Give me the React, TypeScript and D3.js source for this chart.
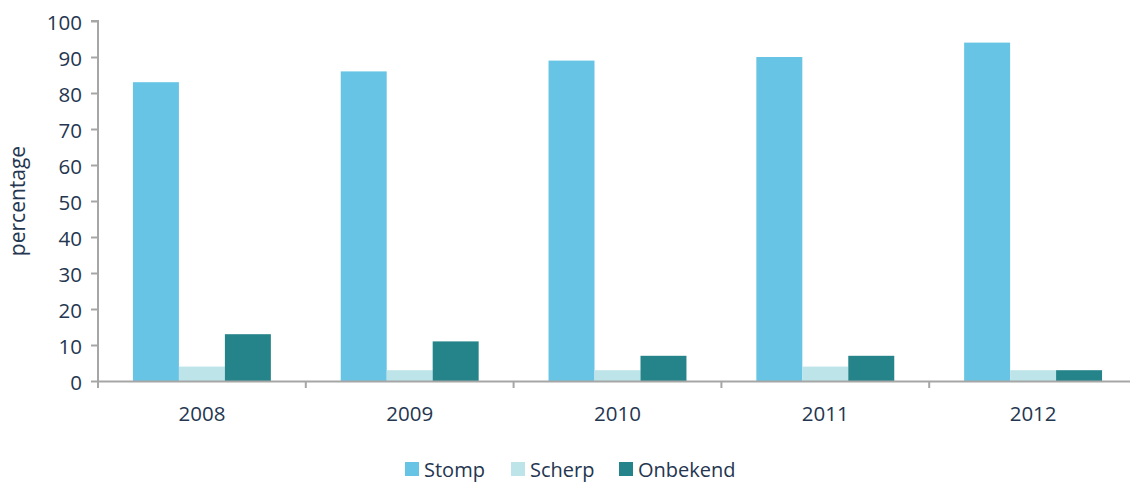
import React, { useEffect, useRef } from "react";
import * as d3 from "d3";

const years = ["2008", "2009", "2010", "2011", "2012"];
const seriesNames = ["Stomp", "Scherp", "Onbekend"];
const stomp = [83, 86, 89, 90, 94];
const scherp = [4, 3, 3, 4, 3];
const onbekend = [13, 11, 7, 7, 3];
const yTicks = [0, 10, 20, 30, 40, 50, 60, 70, 80, 90, 100];

const colors = ["#67C4E5", "#BCE4E9", "#258489"];
const textColor = "#243650";
const axisColor = "#A6A6A6";
const font = "'Open Sans', sans-serif";

const App = () => {
  const ref = useRef<SVGSVGElement>(null);

  useEffect(() => {
    const width = 1130;
    const height = 482;
    const margin = { top: 21, right: -7, bottom: 101, left: 98 };

    const svg = d3.select(ref.current);
    svg.selectAll("*").remove();

    const rows = years.map((y, i) => ({
      year: y,
      values: [stomp[i], scherp[i], onbekend[i]],
    }));

    const x = d3
      .scaleBand()
      .domain(years)
      .range([margin.left, width - margin.right])
      .paddingInner(0)
      .paddingOuter(0);

    const xInner = d3
      .scaleBand()
      .domain(seriesNames)
      .range([0, x.bandwidth()])
      .paddingOuter(0.76)
      .paddingInner(0);

    const y = d3
      .scaleLinear()
      .domain([0, 100])
      .range([height - margin.bottom, margin.top]);

    // bars
    const groups = svg
      .append("g")
      .selectAll("g")
      .data(rows)
      .join("g")
      .attr("transform", (d) => `translate(${x(d.year)},0)`);

    groups
      .selectAll("rect")
      .data((d) => d.values.map((v, j) => ({ key: seriesNames[j], v, j })))
      .join("rect")
      .attr("x", (d) => xInner(d.key)!)
      .attr("y", (d) => y(d.v))
      .attr("width", xInner.bandwidth())
      .attr("height", (d) => y(0) - y(d.v))
      .attr("fill", (d) => colors[d.j]);

    // y axis
    const yAxis = svg
      .append("g")
      .attr("transform", `translate(${margin.left},0)`)
      .call(d3.axisLeft(y).tickValues(yTicks).tickSize(7).tickPadding(9));
    yAxis.select(".domain").attr("stroke", axisColor).attr("stroke-width", 2)
      .attr("d", `M-7,${y(100)}H0V${y(0) + 7}`);
    yAxis.selectAll(".tick line").attr("stroke", axisColor).attr("stroke-width", 2);
    yAxis
      .selectAll("text")
      .attr("fill", textColor)
      .attr("dy", "0.4em")
      .style("font-family", font)
      .style("font-size", "20.5px");

    // x axis
    const xAxis = svg
      .append("g")
      .attr("transform", `translate(0,${y(0)})`)
      .call(d3.axisBottom(x).tickSize(0));
    xAxis.select(".domain").attr("stroke", axisColor).attr("stroke-width", 2);
    xAxis
      .selectAll("text")
      .attr("y", 40)
      .attr("dy", 0)
      .attr("fill", textColor)
      .style("font-family", font)
      .style("font-size", "20.5px");
    // boundary ticks between categories
    xAxis
      .append("g")
      .selectAll("line")
      .data(years.slice(1))
      .join("line")
      .attr("x1", (d) => x(d)!)
      .attr("x2", (d) => x(d)!)
      .attr("y1", 0)
      .attr("y2", 7)
      .attr("stroke", axisColor)
      .attr("stroke-width", 2);

    // y label
    svg
      .append("text")
      .attr("transform", `translate(25,${(y(0) + y(100)) / 2}) rotate(-90)`)
      .attr("text-anchor", "middle")
      .attr("fill", textColor)
      .style("font-family", font)
      .style("font-size", "21px")
      .text("percentage");

    // legend
    const legendX = [405, 511, 619];
    const legend = svg
      .append("g")
      .selectAll("g")
      .data(seriesNames)
      .join("g")
      .attr("transform", (d, i) => `translate(${legendX[i]},462)`);
    legend
      .append("rect")
      .attr("width", 14)
      .attr("height", 14)
      .attr("fill", (d, i) => colors[i]);
    legend
      .append("text")
      .attr("x", 19)
      .attr("y", 15)
      .attr("fill", textColor)
      .style("font-family", font)
      .style("font-size", "20px")
      .text((d) => d);
  }, []);

  return (
    <svg
      ref={ref}
      width={1130}
      height={482}
      style={{ position: "absolute", left: 0, top: 0, background: "#fff" }}
    ></svg>
  );
};

export default App;
